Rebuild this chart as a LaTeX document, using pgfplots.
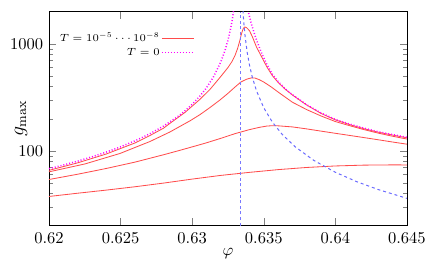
\RequirePackage{fix-cm}
\documentclass[border=0pt]{standalone}
\usepackage{pgfplots}
\pgfplotsset{compat=1.18}
\definecolor{myred}{RGB}{255,75,75}
\definecolor{mymag}{RGB}{255,0,255}
\definecolor{myblue}{RGB}{105,105,255}
\definecolor{myvblue}{RGB}{120,120,255}
\begin{document}
\begin{tikzpicture}
\begin{axis}[
  scale only axis, width=216.8pt, height=129.6pt,
  xmin=0.62, xmax=0.645, ymin=20, ymax=2000, ymode=log,
  xtick={0.62,0.625,0.63,0.635,0.64,0.645},
  xticklabels={0.62,0.625,0.63,0.635,0.64,0.645},
  ytick={100,1000}, yticklabels={100,1000},
  minor ytick={30,40,50,60,70,80,90,200,300,400,500,600,700,800,900},
  tick align=inside, major tick length=4.5pt, minor tick length=2.4pt,
  xticklabel style={yshift=-0.6pt},
  xlabel={$\varphi$}, ylabel={\large$g_{\max}$},
  every axis x label/.style={at={(axis description cs:0.5,-0.13)}, anchor=center},
  every axis y label/.style={at={(axis description cs:-0.0784,0.5)}, anchor=center, rotate=90},
  legend cell align=right, legend plot pos=right,
  legend style={at={(axis description cs:0.4078,0.842)}, anchor=east, draw=none, fill=none,
    inner sep=0pt, font=\fontsize{6.3}{7.5}\selectfont,
    nodes={inner sep=0.9pt, text height=5pt, text depth=1.5pt}},
  legend image code/.code={\draw[#1] (0pt,0pt) -- (19.4pt,0pt);},
]
% T = 1e-8
\addplot[myred, line width=0.5pt] coordinates {
(0.620,65.8)(0.622,77.3)(0.624,93.5)(0.626,118.5)(0.627,138)(0.628,163)(0.62845,181)(0.6295,229)
(0.63054,303)(0.63124,375)(0.63194,485)(0.6325,601)(0.63278,684)(0.63299,778)(0.63317,904)
(0.63331,1049)(0.63341,1194)(0.6335,1315)(0.63358,1403)(0.63367,1439)(0.6338,1418)(0.6340,1330)
(0.6342,1170)(0.6345,930)(0.6348,780)(0.6352,615)(0.6356,505)(0.636,437)(0.6365,377)(0.637,333)
(0.638,268)(0.639,224)(0.640,195)(0.641,176)(0.642,161)(0.643,149.5)(0.644,140.5)(0.645,132.5)};
\addlegendentry{$T=10^{-5}\cdots10^{-8}$}
% T = 0 left branch
\addplot[mymag, line width=0.9pt, dash pattern=on 0.6pt off 1.2pt] coordinates {
(0.620,68.2)(0.621,73.7)(0.622,80.2)(0.623,88.0)(0.624,97.4)(0.625,109.1)(0.626,124.0)(0.627,143.5)
(0.628,170.4)(0.629,209.7)(0.6295,237)(0.630,272.5)(0.6305,320.4)(0.631,388.9)(0.6315,494.6)
(0.632,679)(0.6323,875)(0.6325,1083)(0.6327,1422)(0.6328,1685)(0.6329,2068)(0.6330,2676)};
\addlegendentry{$T=0$}
% T = 0 right branch
\addplot[mymag, line width=0.9pt, dash pattern=on 0.6pt off 1.2pt, forget plot] coordinates {
(0.6338,2500)(0.63392,2000)(0.6341,1600)(0.6343,1300)(0.6345,1080)(0.6348,850)(0.6352,650)
(0.6356,520)(0.636,445)(0.6365,380)(0.637,335)(0.638,270)(0.639,226)(0.640,197)(0.641,178)
(0.642,163)(0.643,151)(0.644,142)(0.645,134)};
% T = 1e-7
\addplot[myred, line width=0.5pt, forget plot] coordinates {
(0.620,63.7)(0.62251,75.5)(0.62496,94.6)(0.62705,122.3)(0.62845,150.3)(0.62985,191)(0.63054,218)
(0.63124,254)(0.63194,299)(0.6325,345)(0.63299,395)(0.63341,441)(0.63376,465)(0.63397,475)
(0.63415,481)(0.6344,479)(0.6347,462)(0.635,440)(0.6355,398)(0.636,355)(0.6365,318)(0.637,285)
(0.638,243)(0.639,212)(0.640,188)(0.641,172)(0.642,158)(0.643,146.5)(0.644,137)(0.645,129)};
% T = 1e-6
\addplot[myred, line width=0.5pt, forget plot] coordinates {
(0.620,54)(0.622,60.5)(0.624,68.5)(0.626,78.5)(0.628,92)(0.629,100)(0.630,109)(0.631,119)
(0.632,131)(0.633,145)(0.634,158)(0.6347,166)(0.6352,170.5)(0.6356,172)(0.636,171.5)(0.637,167.5)
(0.638,160.5)(0.639,153)(0.640,146)(0.6417,135)(0.643,127)(0.644,121)(0.645,115.5)};
% T = 1e-5
\addplot[myred, line width=0.5pt, forget plot] coordinates {
(0.620,37.5)(0.622,40.2)(0.624,43.0)(0.626,46.2)(0.628,50.0)(0.630,54.5)(0.632,59.0)(0.634,63.0)
(0.636,66.8)(0.638,70.0)(0.640,72.3)(0.642,73.6)(0.644,74.0)(0.645,73.9)};
% vertical dashed line
\addplot[myvblue, line width=0.5pt, dash pattern=on 1.8pt off 1.6pt, forget plot] coordinates {
(0.63334,20)(0.63334,2000)};
% dashed decay curve
\addplot[myblue, line width=0.6pt, dash pattern=on 1.8pt off 1.8pt, forget plot] coordinates {
(0.63352,2333)(0.63360,1615)(0.63370,1167)(0.63385,824)(0.63400,636)(0.63420,488)(0.63450,362)
(0.63500,253)(0.6356,186)(0.6363,142)(0.6372,109)(0.6385,81.4)(0.640,63.1)(0.6415,51.5)
(0.643,43.5)(0.645,36.0)};
\end{axis}
\pgfresetboundingbox
\path[use as bounding box] ([shift={(-29.67pt,-26.2pt)}]current axis.south west)
  rectangle ([shift={(17.6pt,7.08pt)}]current axis.north east);
\end{tikzpicture}
\end{document}
